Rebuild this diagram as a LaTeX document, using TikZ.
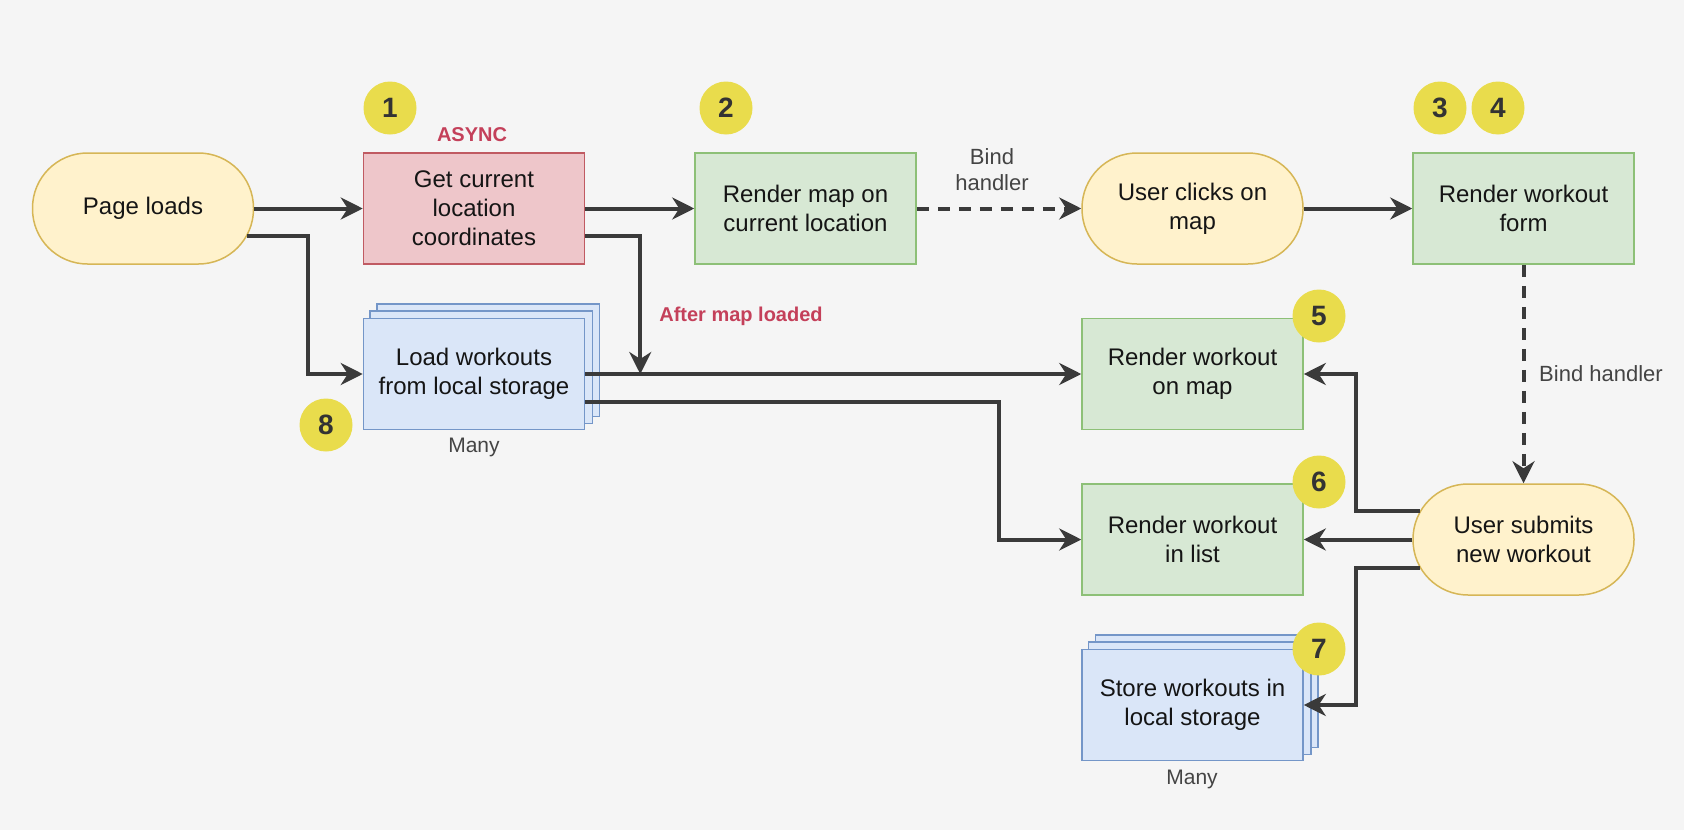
\documentclass[tikz,border=0pt]{standalone}
\usepackage{fontspec}
\setmainfont{Liberation Sans}
\usetikzlibrary{arrows.meta,calc}
\definecolor{bgc}{HTML}{F5F5F5}
\definecolor{yelF}{HTML}{FFF2CC}
\definecolor{yelD}{HTML}{D6B656}
\definecolor{redF}{HTML}{EEC6CA}
\definecolor{redD}{HTML}{C05A62}
\definecolor{grnF}{HTML}{D7E8D4}
\definecolor{grnD}{HTML}{8DC077}
\definecolor{bluF}{HTML}{DAE6F8}
\definecolor{bluD}{HTML}{7496C8}
\definecolor{badgeF}{HTML}{E9DC4C}
\definecolor{badgeT}{HTML}{333333}
\definecolor{arr}{HTML}{3A3A3A}
\definecolor{txt}{HTML}{151515}
\definecolor{lbl}{HTML}{C4405A}
\definecolor{gtxt}{HTML}{444444}
\pgfdeclarelayer{bglayer}
\pgfsetlayers{bglayer,main}
\begin{document}
\begin{tikzpicture}[x=1pt,y=-1pt,
  box/.style={draw, line width=1.5pt, minimum width=221pt, minimum height=111pt,
    inner sep=0pt, align=center, font=\fontsize{24}{29}\selectfont, text=txt},
  stad/.style={box, rounded corners=55pt, fill=yelF, draw=yelD},
  grnbox/.style={box, fill=grnF, draw=grnD},
  redbox/.style={box, fill=redF, draw=redD},
  blubox/.style={box, fill=bluF, draw=bluD},
  backrect/.style={line width=1.5pt, fill=bluF, draw=bluD},
  badge/.style={circle, fill=badgeF, minimum size=53pt, inner sep=0pt,
    font=\bfseries\fontsize{28}{28}\selectfont, text=badgeT},
  redlbl/.style={font=\bfseries\fontsize{20}{24}\selectfont, text=lbl, inner sep=0pt},
  greylbl/.style={font=\fontsize{22}{26}\selectfont, text=gtxt, inner sep=0pt, align=center},
  manylbl/.style={font=\fontsize{21}{24}\selectfont, text=gtxt, inner sep=0pt},
  conn/.style={line width=4pt, draw=arr, -{Stealth[length=22pt,width=22pt,inset=7pt]}},
  dconn/.style={conn, dash pattern=on 12pt off 9pt}
]
\useasboundingbox (0,0) rectangle (1684,830);

% nodes
\node[stad]   (pl) at (143,208.5)    {\raisebox{-3pt}{Page loads}};
\node[redbox] (gc) at (474,208.5)    {Get current\\location\\coordinates};
\node[grnbox] (rm) at (805.5,208.5)  {Render map on\\current location};
\node[stad]   (uc) at (1192.5,208.5) {User clicks on\\map};
\node[grnbox] (rf) at (1523.5,208.5) {Render workout\\form};
\node[grnbox] (ro) at (1192.5,374)   {Render workout\\on map};
\node[grnbox] (rl) at (1192.5,539.5) {Render workout\\in list};
\node[stad]   (us) at (1523.5,539.5) {User submits\\new workout};
\node[blubox] (lw) at (474,374)      {Load workouts\\from local storage};
\node[blubox] (st) at (1192.5,705)   {Store workouts in\\local storage};

\begin{pgfonlayer}{bglayer}
  \fill[bgc] (0,0) rectangle (1684,830);
  \draw[backrect] ($(lw.south west)+(14,-14)$) rectangle ($(lw.north east)+(14,-14)$);
  \draw[backrect] ($(lw.south west)+(7,-7)$) rectangle ($(lw.north east)+(7,-7)$);
  \draw[backrect] ($(st.south west)+(14,-14)$) rectangle ($(st.north east)+(14,-14)$);
  \draw[backrect] ($(st.south west)+(7,-7)$) rectangle ($(st.north east)+(7,-7)$);
\end{pgfonlayer}

% labels
\node[redlbl]  (async) at (472,135) {ASYNC};
\node[redlbl]  (aml)   at (741,316) {After map loaded};
\node[greylbl] (bh1)   at (992,170) {Bind\\handler};
\node[greylbl, anchor=west] (bh2) at (1539,374) {Bind handler};
\node[manylbl] (m1) at (474,447)  {Many};
\node[manylbl] (m2) at (1192,779) {Many};

% junction
\coordinate (jn) at ($(gc.east |- lw.east)+(55,0)$);

% connectors
\draw[conn] (pl.east) -- (gc.west);
\draw[conn] ($(pl.east)+(-7,27)$) -- ++(61,0) |- (lw.west);
\draw[conn] (gc.east) -- (rm.west);
\draw[conn] ($(gc.east)+(0,27)$) -| (jn);
\draw[conn] (lw.east) -- (ro.west);
\draw[conn] ($(lw.east)+(0,28)$) -- ++(414,0) |- (rl.west);
\draw[dconn] (rm.east) -- (uc.west);
\draw[conn] (uc.east) -- (rf.west);
\draw[dconn] (rf.south) -- (us.north);
\draw[conn] ($(us.west)+(8,-28.5)$) -- ++(-64,0) |- (ro.east);
\draw[conn] (us.west) -- (rl.east);
\draw[conn] ($(us.west)+(8,28.5)$) -- ++(-64,0) |- (st.east);

% badges
\node[badge] (b1) at (390,108)  {1};
\node[badge] (b2) at (726,108)  {2};
\node[badge] (b3) at (1440,108) {3};
\node[badge] (b4) at (1498,108) {4};
\node[badge] (b5) at (1319,316) {5};
\node[badge] (b6) at (1319,482) {6};
\node[badge] (b7) at (1319,649) {7};
\node[badge] (b8) at (326,425)  {8};
\end{tikzpicture}
\end{document}
